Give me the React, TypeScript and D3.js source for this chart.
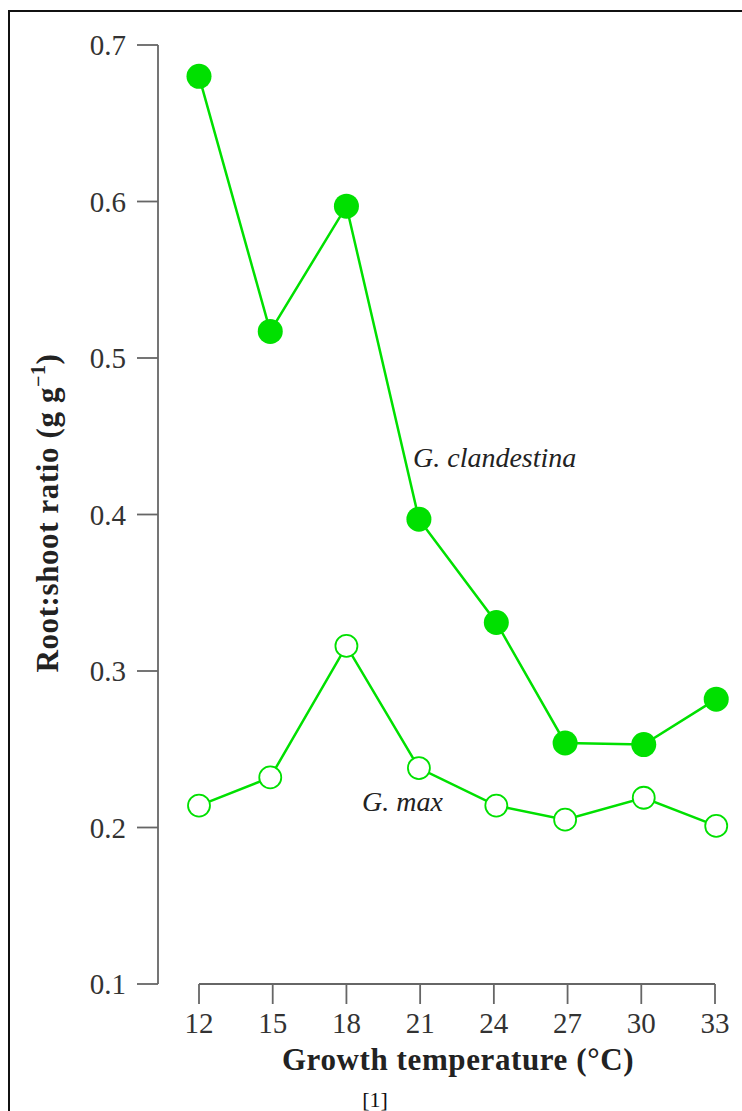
import React from "react";
import * as d3 from "d3";

const temps = [12, 14.9, 18, 20.95, 24.1, 26.9, 30.1, 33.05];
const clandestina = [0.68, 0.517, 0.597, 0.397, 0.331, 0.254, 0.253, 0.282];
const gmax = [0.214, 0.232, 0.316, 0.238, 0.214, 0.205, 0.219, 0.201];
const xTicks = [12, 15, 18, 21, 24, 27, 30, 33];
const yTicks = [0.1, 0.2, 0.3, 0.4, 0.5, 0.6, 0.7];

const GREEN = "#00e000";
const FONT = "'Liberation Serif', 'DejaVu Serif', serif";

export default function App() {
  const x = d3.scaleLinear().domain([12, 33]).range([199, 715]);
  const y = d3.scaleLinear().domain([0.1, 0.7]).range([984, 45]);
  const line = d3
    .line<number>()
    .x((_, i) => x(temps[i]))
    .y((d) => y(d));

  return (
    <svg
      width={742}
      height={1111}
      style={{ position: "absolute", left: 0, top: 0, background: "#fff" }}
    >
      <rect x={9} y={11} width={900} height={1300} fill="none" stroke="#111" strokeWidth={2} />

      {/* y axis */}
      <line x1={158} x2={158} y1={y(0.7)} y2={y(0.1)} stroke="#666" strokeWidth={1.8} />
      {yTicks.map((t) => (
        <g key={t}>
          <line x1={137} x2={158} y1={y(t)} y2={y(t)} stroke="#666" strokeWidth={1.8} />
          <text
            x={126}
            y={y(t)}
            dy="0.35em"
            textAnchor="end"
            fontFamily={FONT}
            fontSize={29}
            fill="#333"
          >
            {t.toFixed(1)}
          </text>
        </g>
      ))}

      {/* x axis */}
      <line x1={x(12)} x2={x(33)} y1={984} y2={984} stroke="#666" strokeWidth={1.8} />
      {xTicks.map((t) => (
        <g key={t}>
          <line x1={x(t)} x2={x(t)} y1={984} y2={1004} stroke="#666" strokeWidth={1.8} />
          <text
            x={x(t)}
            y={1033}
            textAnchor="middle"
            fontFamily={FONT}
            fontSize={29}
            fill="#333"
          >
            {t}
          </text>
        </g>
      ))}
      <text
        x={458}
        y={1070}
        textAnchor="middle"
        fontFamily={FONT}
        fontSize={31}
        fontWeight="bold"
        fill="#222"
        letterSpacing={0.6}
      >
        Growth temperature (°C)
      </text>

      <text
        transform="translate(58,513) rotate(-90)"
        textAnchor="middle"
        fontFamily={FONT}
        fontSize={31}
        fontWeight="bold"
        fill="#222"
        letterSpacing={0.6}
      >
        Root:shoot ratio (g g
        <tspan dy={-13} fontSize={20}>−1</tspan>
        <tspan dy={13}>)</tspan>
      </text>

      {/* series */}
      <path d={line(clandestina) || ""} fill="none" stroke={GREEN} strokeWidth={2.5} />
      <path d={line(gmax) || ""} fill="none" stroke={GREEN} strokeWidth={2.5} />
      {clandestina.map((v, i) => (
        <circle key={"c" + i} cx={x(temps[i])} cy={y(v)} r={12.5} fill={GREEN} />
      ))}
      {gmax.map((v, i) => (
        <circle
          key={"m" + i}
          cx={x(temps[i])}
          cy={y(v)}
          r={11}
          fill="#fff"
          stroke={GREEN}
          strokeWidth={1.8}
        />
      ))}

      <text x={413} y={467} fontFamily={FONT} fontSize={28} fontStyle="italic" fill="#222">
        G. clandestina
      </text>
      <text x={362} y={811} fontFamily={FONT} fontSize={28} fontStyle="italic" fill="#222">
        G. max
      </text>

      <text x={375} y={1107} textAnchor="middle" fontFamily={FONT} fontSize={22} fill="#111">
        [1]
      </text>
    </svg>
  );
}
